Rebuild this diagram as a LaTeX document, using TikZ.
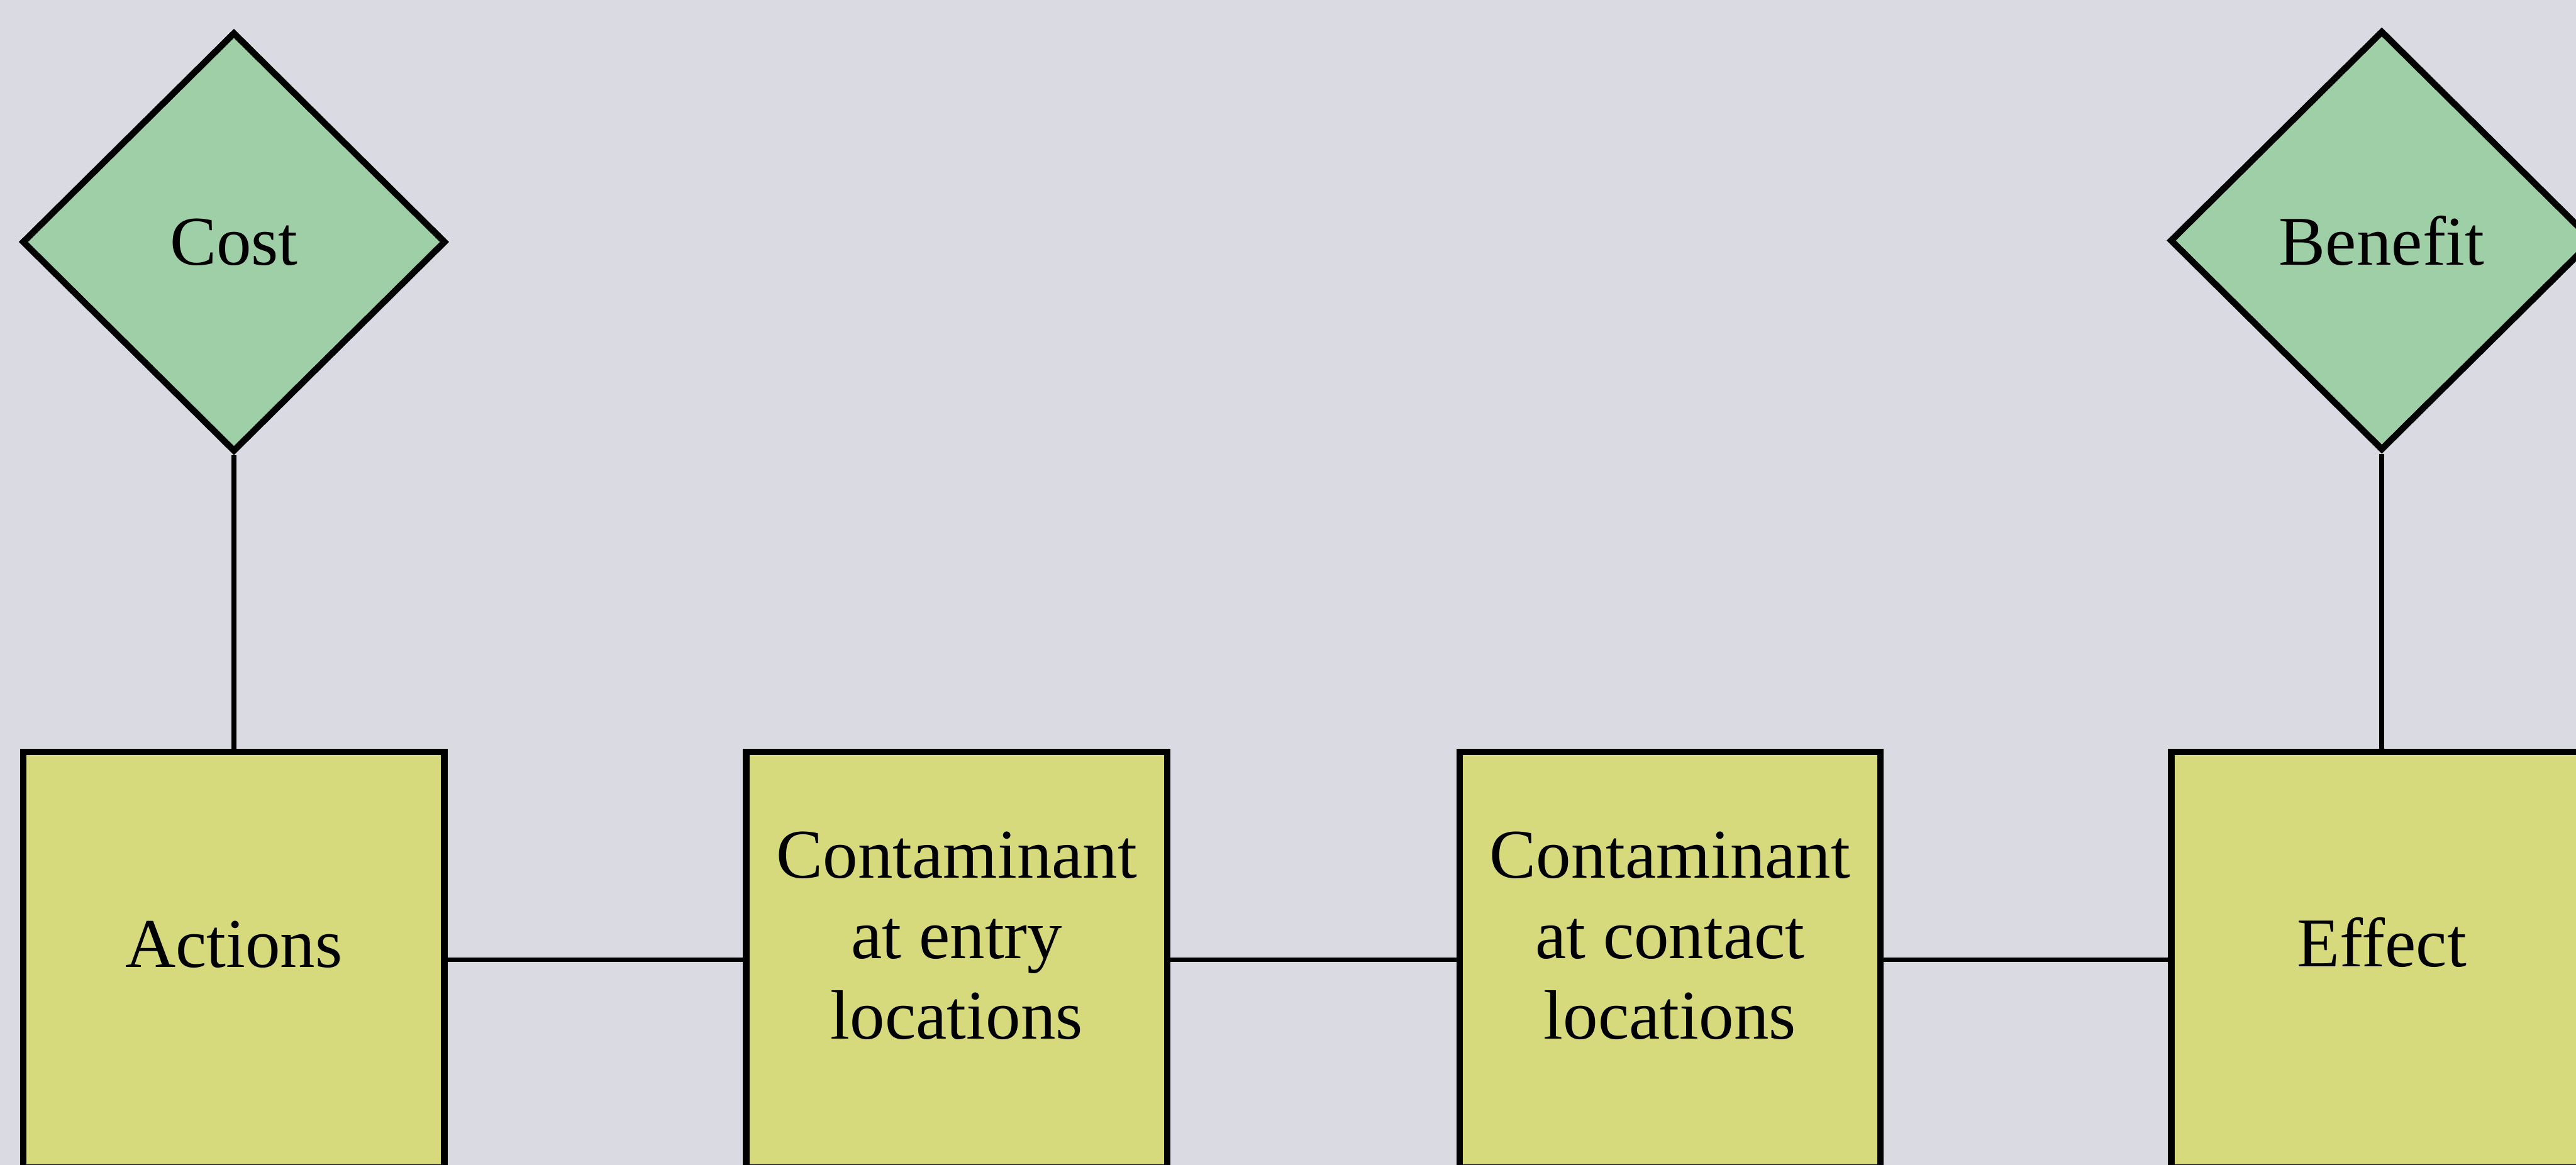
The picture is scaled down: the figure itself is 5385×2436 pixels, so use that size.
\documentclass[tikz,border=0pt]{standalone}
\usepackage{fontspec}
\setmainfont{Liberation Serif}
\usetikzlibrary{shapes.geometric}
\definecolor{pagebg}{RGB}{217,218,226}
\definecolor{valuegreen}{RGB}{159,207,166}
\definecolor{stageyellow}{RGB}{214,218,124}
\tikzset{
  valuenode/.style={diamond, draw=black, line width=1.35pt, fill=valuegreen,
    minimum width=88.6pt, minimum height=87.8pt, inner sep=0pt, aspect=1,
    font=\fontsize{14.6pt}{16.8pt}\selectfont},
  stagebox/.style={rectangle, draw=black, line width=1.35pt, fill=stageyellow,
    minimum width=88pt, minimum height=87pt, inner sep=0pt},
  stagelabel/.style={inner sep=0pt, align=center,
    font=\fontsize{14.6pt}{16.8pt}\selectfont},
  link/.style={draw=black, line width=1pt}
}
\begin{document}
\begin{tikzpicture}[x=0.1pt,y=-0.1pt]
  \useasboundingbox (0,0) rectangle (5385,2436);
  \fill[pagebg] (0,0) rectangle (5385,2436);
  \clip (0,0) rectangle (5385,2436);

  % cost and benefit
  \node[valuenode] (cost) at (489,506) {Cost};
  \node[valuenode] (benefit) at (4979,503) {Benefit};

  % chain of stages
  \node[stagebox] (actions) at (489,2007) {};
  \node[stagebox] (entry) at (2000,2007) {};
  \node[stagebox] (contact) at (3491,2007) {};
  \node[stagebox] (effect) at (4979,2007) {};

  % stage captions, set a little above each box centre
  \node[stagelabel, yshift=3.2pt] (actionsText) at (actions.center) {Actions};
  \node[stagelabel, yshift=5pt] (entryText) at (entry.center) {Contaminant\\at entry\\locations};
  \node[stagelabel, yshift=5pt] (contactText) at (contact.center) {Contaminant\\at contact\\locations};
  \node[stagelabel, yshift=3.6pt] (effectText) at (effect.center) {Effect};

  % connectors
  \draw[link] (cost.south) -- (actions.north);
  \draw[link] (benefit.south) -- (effect.north);
  \draw[link] (actions.east) -- (entry.west);
  \draw[link] (entry.east) -- (contact.west);
  \draw[link] (contact.east) -- (effect.west);
\end{tikzpicture}
\end{document}
